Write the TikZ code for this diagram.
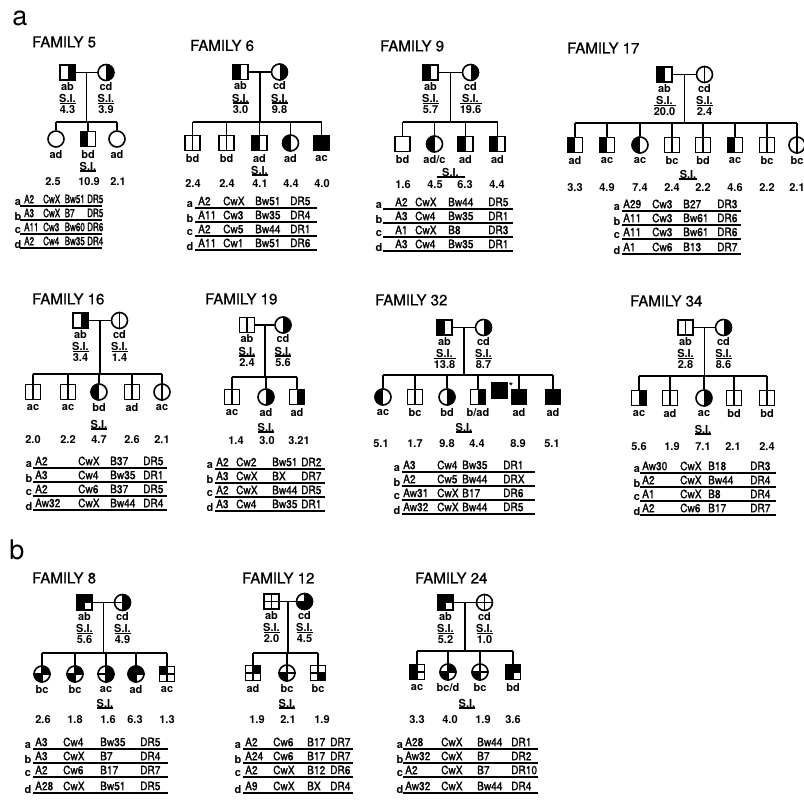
\documentclass[tikz,border=0pt]{standalone}
\usepackage{fontspec}
\setmainfont{TeX Gyre Heros}
\newfontfamily\hapf{TeX Gyre Heros}[FakeStretch=0.88,FakeBold=1.3]
\newfontfamily\hapn{TeX Gyre Heros}[FakeStretch=0.7,FakeBold=1.5]
\newfontfamily\ttlf{TeX Gyre Heros}[FakeBold=0.8]
\usetikzlibrary{calc}
\newcommand\ttlfont{\ttlf\fontsize{15}{17}\selectfont}
\newcommand\lblfont{\bfseries\fontsize{11}{12}\selectfont}
\let\hapsel\hapf
\newcommand\hapfont{\hapsel\fontsize{11.5}{12}\selectfont}
\tikzset{
 sq/.style={draw,line width=1.6pt,rectangle,minimum size=15pt,inner sep=0pt},
 ci/.style={draw,line width=1.6pt,circle,minimum size=16pt,inner sep=0pt},
 con/.style={line width=1.5pt},
 dv/.style={line width=1.2pt},
 und/.style={line width=1.1pt},
 lbl/.style={font=\lblfont,inner sep=0pt},
 ttl/.style={font=\ttlfont,anchor=west,inner sep=0pt},
 hap/.style={font=\hapfont,anchor=west,inner sep=0pt},
 hl/.style={font=\lblfont,inner sep=0pt},
 big/.style={font=\fontsize{27}{29}\selectfont,inner sep=0pt},
}
% symbols
\newcommand\PSq[3]{\node[sq] (#1) at (#2,#3) {};}
\newcommand\PCi[3]{\node[ci] (#1) at (#2,#3) {};}
\newcommand\PSL[1]{\fill (#1.north west) rectangle (#1.south);}
\newcommand\PSR[1]{\fill (#1.north) rectangle (#1.south east);}
\newcommand\PSF[1]{\fill (#1.north west) rectangle (#1.south east);}
\newcommand\PCL[1]{\begin{scope}\clip (#1.center) circle[radius=8.6pt];\fill ([xshift=-9pt]#1.north) rectangle (#1.south);\end{scope}}
\newcommand\PCR[1]{\begin{scope}\clip (#1.center) circle[radius=8.6pt];\fill (#1.north) rectangle ([xshift=9pt]#1.south);\end{scope}}
\newcommand\PV[1]{\draw[dv] (#1.north) -- (#1.south);}
\newcommand\PH[1]{\draw[dv] (#1.west) -- (#1.east);}
\newcommand\PQS[2]{\fill (#1.center) rectangle (#1.#2);}
\newcommand\PQC[3]{\begin{scope}\clip (#1.center) circle[radius=8.6pt];\fill (#1.center) rectangle ([xshift=#2,yshift=#3]#1.center);\end{scope}}
% labels
\newcommand\PPL[4]{%
 \node[lbl] (#1g) at ([yshift=-14pt]#1.center) {#2};
 \node[lbl] (#1s) at ([yshift=-26pt]#1.center) {S.I.};
 \node[lbl] (#1v) at ([yshift=-37.5pt]#1.center) {#3};
 \draw[und] ([xshift=-#4,yshift=-31pt]#1.center) -- ([xshift=#4,yshift=-31pt]#1.center);}
\newcommand\PKL[2]{\node[lbl] (#1l) at ([yshift=-15.5pt]#1.center) {#2};}
\newcommand\PKS[4]{\node[lbl] (#1) at (#2,#3) {S.I.};
 \draw[und] ({#2-#4},{#3+5}) -- ({#2+#4},{#3+5});}
\newcommand\PMar[2]{\coordinate (#1mid) at ($(#1f.east)!0.5!(#1m.west)$);
 \coordinate (#1sib) at (0,#2);
 \draw[con] (#1f.east) -- (#1m.west);
 \draw[con] (#1mid) -- (#1mid |- #1sib);}
\newcommand\PSib[3]{\draw[con] (#2.north |- #1sib) -- (#3.north |- #1sib);}
\newcommand\PDr[2]{\draw[con] (#2.north) -- (#2.north |- #1sib);}
\newcommand\PHR[7]{%
 \node[hap] (#1A) at (\hxa,#2) {#4};
 \node[hap] (#1C) at (\hxc,#2) {#5};
 \node[hap] (#1B) at (\hxb,#2) {#6};
 \node[hap] (#1D) at (\hxd,#2) {#7};
 \node[hl] (#1L) at (\hxl,{#2+3.5}) {#3};
 \draw[und] (\hxs,{#2+7}) -- (\hxe,{#2+7});}
\begin{document}
\begin{tikzpicture}[x=1pt,y=-1pt]
\fill[white] (0,0) rectangle (804,801);
\useasboundingbox (0,0) rectangle (804,801);
\node[big] (pa) at (20,18) {a};
\node[big] (pb) at (17,550) {b};
% ================= FAMILY 5
\node[ttl] (t5) at (32,42) {FAMILY 5};
\PSq{f5f}{67.5}{72.5}\PSR{f5f}
\PCi{f5m}{106}{72.5}\PCR{f5m}
\PPL{f5f}{ab}{4.3}{8pt}\PPL{f5m}{cd}{3.9}{8pt}
\PMar{f5}{122}
\PCi{f5c1}{56}{139}
\PSq{f5c2}{88}{139}\PSL{f5c2}
\PCi{f5c3}{117}{139}
\PSib{f5}{f5c1}{f5c3}
\foreach \k in {1,2,3}{\PDr{f5}{f5c\k}}
\PKL{f5c1}{ad}\PKL{f5c2}{bd}\PKL{f5c3}{ad}
\PKS{f5si}{88}{166}{8}
\node[lbl] (f5v1) at (53,182) {2.5};
\node[lbl] (f5v2) at (89,182) {10.9};
\node[lbl] (f5v3) at (118,182) {2.1};
\let\hapsel\hapn
\def\hxl{18}\def\hxa{24}\def\hxc{43}\def\hxb{64.5}\def\hxd{87}\def\hxs{20}\def\hxe{102}
\PHR{f5a}{199}{a}{A2}{CwX}{Bw51}{DR5}
\PHR{f5b}{213}{b}{A3}{CwX}{B7}{DR5}
\PHR{f5c}{227}{c}{A11}{Cw3}{Bw60}{DR6}
\PHR{f5d}{241}{d}{A2}{Cw4}{Bw35}{DR4}
\let\hapsel\hapf
% ================= FAMILY 6
\node[ttl] (t6) at (190,45.5) {FAMILY 6};
\PSq{f6f}{240.5}{72}\PSL{f6f}
\PCi{f6m}{279.5}{72}\PCR{f6m}
\PPL{f6f}{ab}{3.0}{8pt}\PPL{f6m}{cd}{9.8}{8pt}
\PMar{f6}{122}
\PSq{f6c1}{192.5}{143}\PV{f6c1}
\PSq{f6c2}{226.5}{143}\PV{f6c2}
\PSq{f6c3}{259.5}{143}\PSL{f6c3}
\PCi{f6c4}{290.5}{143}\PCL{f6c4}
\PSq{f6c5}{321.5}{143}\PSF{f6c5}
\PSib{f6}{f6c1}{f6c5}
\foreach \k in {1,...,5}{\PDr{f6}{f6c\k}}
\PKL{f6c1}{bd}\PKL{f6c2}{bd}\PKL{f6c3}{ad}\PKL{f6c4}{ad}\PKL{f6c5}{ac}
\PKS{f6si}{259.5}{170}{8}
\node[lbl] (f6v1) at (193,184) {2.4};
\node[lbl] (f6v2) at (227,184) {2.4};
\node[lbl] (f6v3) at (260,184) {4.1};
\node[lbl] (f6v4) at (291,184) {4.4};
\node[lbl] (f6v5) at (322,184) {4.0};
\def\hxl{190}\def\hxa{198}\def\hxc{223}\def\hxb{255}\def\hxd{290}\def\hxs{195}\def\hxe{317}
\PHR{f6a}{201}{a}{A2}{CwX}{Bw51}{DR5}
\PHR{f6b}{215}{b}{A11}{Cw3}{Bw35}{DR4}
\PHR{f6c}{229}{c}{A2}{Cw5}{Bw44}{DR1}
\PHR{f6d}{243}{d}{A11}{Cw1}{Bw51}{DR6}
% ================= FAMILY 9
\node[ttl] (t9) at (380,46) {FAMILY 9};
\PSq{f9f}{430.5}{72.5}\PSL{f9f}
\PCi{f9m}{470.5}{72.5}\PCR{f9m}
\PPL{f9f}{ab}{5.7}{8pt}\PPL{f9m}{cd}{19.6}{11pt}
\PMar{f9}{122}
\PSq{f9c1}{402.5}{144}
\PCi{f9c2}{434.5}{144}\PCL{f9c2}
\PSq{f9c3}{465.5}{144}\PSL{f9c3}
\PSq{f9c4}{497.5}{144}\PSL{f9c4}
\PSib{f9}{f9c1}{f9c4}
\foreach \k in {1,...,4}{\PDr{f9}{f9c\k}}
\PKL{f9c1}{bd}\PKL{f9c2}{ad/c}\PKL{f9c3}{ad}\PKL{f9c4}{ad}
\PKS{f9si}{450.5}{172}{14}
\node[lbl] (f9v1) at (403,185) {1.6};
\node[lbl] (f9v2) at (435,185) {4.5};
\node[lbl] (f9v3) at (465,185) {6.3};
\node[lbl] (f9v4) at (497,185) {4.4};
\def\hxl{379}\def\hxa{395}\def\hxc{415}\def\hxb{448}\def\hxd{488}\def\hxs{383}\def\hxe{513}
\PHR{f9a}{202}{a}{A2}{CwX}{Bw44}{DR5}
\PHR{f9b}{216}{b}{A3}{Cw4}{Bw35}{DR1}
\PHR{f9c}{230}{c}{A1}{CwX}{B8}{DR3}
\PHR{f9d}{244}{d}{A3}{Cw4}{Bw35}{DR1}
% ================= FAMILY 17
\node[ttl] (t17) at (567,48) {FAMILY 17};
\PSq{f17f}{664.5}{74.5}\PSL{f17f}
\PCi{f17m}{704.5}{74.5}\PV{f17m}
\PPL{f17f}{ab}{20.0}{11pt}\PPL{f17m}{cd}{2.4}{8pt}
\PMar{f17}{123}
\PSq{f17c1}{575}{145}\PSL{f17c1}
\PSq{f17c2}{607}{145}\PSL{f17c2}
\PCi{f17c3}{640}{145}\PCL{f17c3}
\PSq{f17c4}{672}{145}\PV{f17c4}
\PSq{f17c5}{703}{145}\PV{f17c5}
\PSq{f17c6}{735}{145}\PSL{f17c6}
\PSq{f17c7}{767}{145}\PV{f17c7}
\PCi{f17c8}{797}{145}\PV{f17c8}
\PSib{f17}{f17c1}{f17c8}
\foreach \k in {1,...,8}{\PDr{f17}{f17c\k}}
\PKL{f17c1}{ad}\PKL{f17c2}{ac}\PKL{f17c3}{ac}\PKL{f17c4}{bc}\PKL{f17c5}{bd}\PKL{f17c6}{ac}\PKL{f17c7}{bc}\PKL{f17c8}{bc}
\PKS{f17si}{688}{174}{9}
\node[lbl] (f17v1) at (575,188) {3.3};
\node[lbl] (f17v2) at (607,188) {4.9};
\node[lbl] (f17v3) at (640,188) {7.4};
\node[lbl] (f17v4) at (672,188) {2.4};
\node[lbl] (f17v5) at (703,188) {2.2};
\node[lbl] (f17v6) at (735,188) {4.6};
\node[lbl] (f17v7) at (767,188) {2.2};
\node[lbl] (f17v8) at (797,188) {2.1};
\def\hxl{617}\def\hxa{623}\def\hxc{652}\def\hxb{683}\def\hxd{717}\def\hxs{622}\def\hxe{741}
\PHR{f17a}{204}{a}{A29}{Cw3}{B27}{DR3}
\PHR{f17b}{218}{b}{A11}{Cw3}{Bw61}{DR6}
\PHR{f17c}{232}{c}{A11}{Cw3}{Bw61}{DR6}
\PHR{f17d}{247}{d}{A1}{Cw6}{B13}{DR7}
% ================= FAMILY 16
\node[ttl] (t16) at (32,299) {FAMILY 16};
\PSq{f16f}{80.5}{320.5}\PSR{f16f}
\PCi{f16m}{119.5}{320.5}\PV{f16m}
\PPL{f16f}{ab}{3.4}{8pt}\PPL{f16m}{cd}{1.4}{8pt}
\PMar{f16}{374}
\PSq{f16c1}{33}{392}\PV{f16c1}
\PSq{f16c2}{68}{392}\PV{f16c2}
\PCi{f16c3}{99}{392}\PCL{f16c3}
\PSq{f16c4}{132}{392}\PV{f16c4}
\PCi{f16c5}{162}{392}\PV{f16c5}
\PSib{f16}{f16c1}{f16c5}
\foreach \k in {1,...,5}{\PDr{f16}{f16c\k}}
\PKL{f16c1}{ac}\PKL{f16c2}{ac}\PKL{f16c3}{bd}\PKL{f16c4}{ad}\PKL{f16c5}{ac}
\PKS{f16si}{99}{424}{8}
\node[lbl] (f16v1) at (33,440) {2.0};
\node[lbl] (f16v2) at (68,440) {2.2};
\node[lbl] (f16v3) at (99,440) {4.7};
\node[lbl] (f16v4) at (132,440) {2.6};
\node[lbl] (f16v5) at (162,440) {2.1};
\def\hxl{29}\def\hxa{35}\def\hxc{78}\def\hxb{110}\def\hxd{143}\def\hxs{33}\def\hxe{167}
\PHR{f16a}{461}{a}{A2}{CwX}{B37}{DR5}
\PHR{f16b}{475}{b}{A3}{Cw4}{Bw35}{DR1}
\PHR{f16c}{489}{c}{A2}{Cw6}{B37}{DR5}
\PHR{f16d}{503}{d}{Aw32}{CwX}{Bw44}{DR4}
% ================= FAMILY 19
\node[ttl] (t19) at (205,299) {FAMILY 19};
\PSq{f19f}{247}{325}\PV{f19f}
\PCi{f19m}{283}{325}\PCR{f19m}
\PPL{f19f}{ab}{2.4}{8pt}\PPL{f19m}{cd}{5.6}{8pt}
\PMar{f19}{377}
\PSq{f19c1}{232}{397}\PV{f19c1}
\PCi{f19c2}{266}{397}\PCR{f19c2}
\PSq{f19c3}{297}{397}\PSR{f19c3}
\PSib{f19}{f19c1}{f19c3}
\foreach \k in {1,2,3}{\PDr{f19}{f19c\k}}
\PKL{f19c1}{ac}\PKL{f19c2}{ad}\PKL{f19c3}{ad}
\PKS{f19si}{266}{427}{8}
\node[lbl] (f19v1) at (236,441) {1.4};
\node[lbl] (f19v2) at (267,441) {3.0};
\node[lbl] (f19v3) at (299,441) {3.21};
\def\hxl{210}\def\hxa{216}\def\hxc{236}\def\hxb{272}\def\hxd{301}\def\hxs{215}\def\hxe{325}
\PHR{f19a}{462}{a}{A2}{Cw2}{Bw51}{DR2}
\PHR{f19b}{476}{b}{A3}{CwX}{BX}{DR7}
\PHR{f19c}{490}{c}{A2}{CwX}{Bw44}{DR5}
\PHR{f19d}{504}{d}{A3}{Cw4}{Bw35}{DR1}
% ================= FAMILY 32
\node[ttl] (t32) at (375,300) {FAMILY 32};
\PSq{f32f}{444.5}{327.5}\PSL{f32f}
\PCi{f32m}{483.5}{327.5}\PCR{f32m}
\PPL{f32f}{ab}{13.8}{11pt}\PPL{f32m}{cd}{8.7}{8pt}
\PMar{f32}{375}
\PCi{f32c1}{383}{397}\PCL{f32c1}
\PSq{f32c2}{415}{397}\PV{f32c2}
\PCi{f32c3}{447}{397}\PCR{f32c3}
\PSq{f32c4}{478}{397}\PSR{f32c4}
\PSq{f32x}{499.5}{390.5}\PSF{f32x}
\node[lbl] (f32ast) at (511,386) {*};
\PSq{f32c5}{519}{397}\PSF{f32c5}
\PSq{f32c6}{553}{397}\PSF{f32c6}
\PSib{f32}{f32c1}{f32c6}
\foreach \k in {1,...,6}{\PDr{f32}{f32c\k}}
\PKL{f32c1}{ac}\PKL{f32c2}{bc}\PKL{f32c3}{bd}\PKL{f32c4}{b/ad}\PKL{f32c5}{ad}\PKL{f32c6}{ad}
\PKS{f32si}{464}{427}{8}
\node[lbl] (f32v1) at (381,444) {5.1};
\node[lbl] (f32v2) at (415,444) {1.7};
\node[lbl] (f32v3) at (447,444) {9.8};
\node[lbl] (f32v4) at (477,444) {4.4};
\node[lbl] (f32v5) at (518,444) {8.9};
\node[lbl] (f32v6) at (552,444) {5.1};
\def\hxl{397}\def\hxa{403}\def\hxc{437}\def\hxb{462}\def\hxd{503}\def\hxs{402}\def\hxe{535}
\PHR{f32a}{465}{a}{A3}{Cw4}{Bw35}{DR1}
\PHR{f32b}{479}{b}{A2}{Cw5}{Bw44}{DRX}
\PHR{f32c}{493}{c}{Aw31}{CwX}{B17}{DR6}
\PHR{f32d}{507}{d}{Aw32}{CwX}{Bw44}{DR5}
% ================= FAMILY 34
\node[ttl] (t34) at (630,301) {FAMILY 34};
\PSq{f34f}{685.5}{327.5}\PV{f34f}
\PCi{f34m}{723.5}{327.5}\PCR{f34m}
\PPL{f34f}{ab}{2.8}{8pt}\PPL{f34m}{cd}{8.6}{8pt}
\PMar{f34}{376}
\PSq{f34c1}{639}{398}\PSR{f34c1}
\PSq{f34c2}{670}{398}\PV{f34c2}
\PCi{f34c3}{704}{398}\PCR{f34c3}
\PSq{f34c4}{734}{398}\PV{f34c4}
\PSq{f34c5}{767}{398}\PV{f34c5}
\PSib{f34}{f34c1}{f34c5}
\foreach \k in {1,...,5}{\PDr{f34}{f34c\k}}
\PKL{f34c1}{ac}\PKL{f34c2}{ad}\PKL{f34c3}{ac}\PKL{f34c4}{bd}\PKL{f34c5}{bd}
\PKS{f34si}{703}{429}{8}
\node[lbl] (f34v1) at (639,447) {5.6};
\node[lbl] (f34v2) at (672,447) {1.9};
\node[lbl] (f34v3) at (703,447) {7.1};
\node[lbl] (f34v4) at (733,447) {2.1};
\node[lbl] (f34v5) at (767,447) {2.4};
\def\hxl{637}\def\hxa{642}\def\hxc{680}\def\hxb{708}\def\hxd{750}\def\hxs{640}\def\hxe{776}
\PHR{f34a}{466}{a}{Aw30}{CwX}{B18}{DR3}
\PHR{f34b}{480}{b}{A2}{CwX}{Bw44}{DR4}
\PHR{f34c}{494}{c}{A1}{CwX}{B8}{DR4}
\PHR{f34d}{508}{d}{A2}{Cw6}{B17}{DR7}
% ================= FAMILY 8
\node[ttl] (t8) at (32,578) {FAMILY 8};
\PSq{f8f}{84.5}{602.5}\PQS{f8f}{north west}\PQS{f8f}{north east}\PQS{f8f}{south west}\PV{f8f}\PH{f8f}
\PCi{f8m}{122.5}{602.5}\PQC{f8m}{9pt}{9pt}\PQC{f8m}{9pt}{-9pt}\PV{f8m}\PH{f8m}
\PPL{f8f}{ab}{5.6}{8pt}\PPL{f8m}{cd}{4.9}{8pt}
\PMar{f8}{653}
\PCi{f8c1}{42}{674}\PQC{f8c1}{-9pt}{-9pt}\PQC{f8c1}{9pt}{9pt}\PV{f8c1}\PH{f8c1}
\PCi{f8c2}{75}{674}\PQC{f8c2}{-9pt}{-9pt}\PQC{f8c2}{9pt}{9pt}\PV{f8c2}\PH{f8c2}
\PCi{f8c3}{106}{674}\PQC{f8c3}{9pt}{9pt}\PQC{f8c3}{9pt}{-9pt}\PV{f8c3}\PH{f8c3}
\PCi{f8c4}{136}{674}\PQC{f8c4}{-9pt}{9pt}\PQC{f8c4}{9pt}{9pt}\PQC{f8c4}{-9pt}{-9pt}\PV{f8c4}\PH{f8c4}
\PSq{f8c5}{167}{674}\PQS{f8c5}{north west}\PV{f8c5}\PH{f8c5}
\PSib{f8}{f8c1}{f8c5}
\foreach \k in {1,...,5}{\PDr{f8}{f8c\k}}
\PKL{f8c1}{bc}\PKL{f8c2}{bc}\PKL{f8c3}{ac}\PKL{f8c4}{ad}\PKL{f8c5}{ac}
\PKS{f8si}{105}{703}{8}
\node[lbl] (f8v1) at (43,720) {2.6};
\node[lbl] (f8v2) at (75,720) {1.8};
\node[lbl] (f8v3) at (108,720) {1.6};
\node[lbl] (f8v4) at (135,720) {6.3};
\node[lbl] (f8v5) at (167,720) {1.3};
\def\hxl{28}\def\hxa{35}\def\hxc{63}\def\hxb{100}\def\hxd{140}\def\hxs{33}\def\hxe{168}
\PHR{f8a}{742}{a}{A3}{Cw4}{Bw35}{DR5}
\PHR{f8b}{756}{b}{A3}{CwX}{B7}{DR4}
\PHR{f8c}{770}{c}{A2}{Cw6}{B17}{DR7}
\PHR{f8d}{786}{d}{A28}{CwX}{Bw51}{DR5}
% ================= FAMILY 12
\node[ttl] (t12) at (242,578) {FAMILY 12};
\PSq{f12f}{271.5}{601.5}\PV{f12f}\PH{f12f}
\PCi{f12m}{304.5}{601.5}\PQC{f12m}{9pt}{9pt}\PQC{f12m}{9pt}{-9pt}\PQC{f12m}{-9pt}{-9pt}\PV{f12m}\PH{f12m}
\PPL{f12f}{ab}{2.0}{8pt}\PPL{f12m}{cd}{4.5}{8pt}
\PMar{f12}{653}
\PSq{f12c1}{253}{673}\PQS{f12c1}{north east}\PV{f12c1}\PH{f12c1}
\PCi{f12c2}{287}{673}\PQC{f12c2}{-9pt}{-9pt}\PV{f12c2}\PH{f12c2}
\PSq{f12c3}{318}{673}\PQS{f12c3}{south east}\PV{f12c3}\PH{f12c3}
\PSib{f12}{f12c1}{f12c3}
\foreach \k in {1,2,3}{\PDr{f12}{f12c\k}}
\PKL{f12c1}{ad}\PKL{f12c2}{bc}\PKL{f12c3}{bc}
\PKS{f12si}{287}{703}{8}
\node[lbl] (f12v1) at (257,720) {1.9};
\node[lbl] (f12v2) at (288,720) {2.1};
\node[lbl] (f12v3) at (322,720) {1.9};
\def\hxl{238}\def\hxa{245}\def\hxc{273}\def\hxb{307}\def\hxd{330}\def\hxs{243}\def\hxe{353}
\PHR{f12a}{742}{a}{A2}{Cw6}{B17}{DR7}
\PHR{f12b}{756}{b}{A24}{Cw6}{B17}{DR7}
\PHR{f12c}{770}{c}{A2}{CwX}{B12}{DR6}
\PHR{f12d}{786}{d}{A9}{CwX}{BX}{DR4}
% ================= FAMILY 24
\node[ttl] (t24) at (415,578) {FAMILY 24};
\PSq{f24f}{445.5}{602.5}\PQS{f24f}{north west}\PQS{f24f}{north east}\PQS{f24f}{south west}\PV{f24f}\PH{f24f}
\PCi{f24m}{484.5}{602.5}\PV{f24m}\PH{f24m}
\PPL{f24f}{ab}{5.2}{8pt}\PPL{f24m}{cd}{1.0}{8pt}
\PMar{f24}{651}
\PSq{f24c1}{417}{672}\PQS{f24c1}{north west}\PQS{f24c1}{south west}\PV{f24c1}\PH{f24c1}
\PCi{f24c2}{448}{672}\PQC{f24c2}{-9pt}{-9pt}\PQC{f24c2}{9pt}{9pt}\PV{f24c2}\PH{f24c2}
\PCi{f24c3}{480}{672}\PQC{f24c3}{-9pt}{-9pt}\PV{f24c3}\PH{f24c3}
\PSq{f24c4}{513}{672}\PQS{f24c4}{north west}\PQS{f24c4}{north east}\PQS{f24c4}{south west}\PV{f24c4}\PH{f24c4}
\PSib{f24}{f24c1}{f24c4}
\foreach \k in {1,...,4}{\PDr{f24}{f24c\k}}
\PKL{f24c1}{ac}\PKL{f24c2}{bc/d}\PKL{f24c3}{bc}\PKL{f24c4}{bd}
\PKS{f24si}{467}{703}{8}
\node[lbl] (f24v1) at (417,720) {3.3};
\node[lbl] (f24v2) at (450,720) {4.0};
\node[lbl] (f24v3) at (483,720) {1.9};
\node[lbl] (f24v4) at (513,720) {3.6};
\def\hxl{400}\def\hxa{405}\def\hxc{441}\def\hxb{477}\def\hxd{511}\def\hxs{403}\def\hxe{538}
\PHR{f24a}{742}{a}{A28}{CwX}{Bw44}{DR1}
\PHR{f24b}{756}{b}{Aw32}{CwX}{B7}{DR2}
\PHR{f24c}{770}{c}{A2}{CwX}{B7}{DR10}
\PHR{f24d}{786}{d}{Aw32}{CwX}{Bw44}{DR4}
\end{tikzpicture}
\end{document}
